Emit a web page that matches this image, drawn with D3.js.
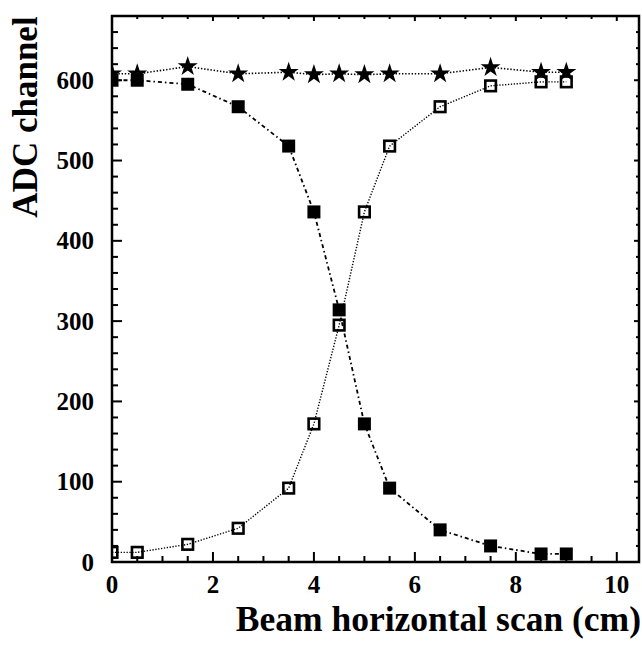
<!DOCTYPE html>
<html>
<head>
<meta charset="utf-8">
<script src="https://cdn.jsdelivr.net/npm/d3@7"></script>
<style>
  html, body { margin: 0; padding: 0; background: #fff; }
  svg { display: block; }
  text { font-family: "Liberation Serif", "Times New Roman", serif; font-weight: bold; fill: #000; }
</style>
</head>
<body>
<svg id="chart" width="642" height="648"></svg>
<script>
// Beam scan positions (cm)
const positions = [0, 0.5, 1.5, 2.5, 3.5, 4.0, 4.5, 5.0, 5.5, 6.5, 7.5, 8.5, 9.0];
// Sum of both channels (stars)
const sumADC = [608, 608, 617, 608, 610, 607, 608, 607, 608, 608, 616, 610, 610];
// Channel A (filled squares)
const channelA = [600, 600, 595, 567, 518, 436, 314, 172, 92, 40, 20, 10, 10];
// Channel B (open squares)
const channelB = [12, 12, 22, 42, 92, 172, 295, 436, 518, 567, 593, 598, 598];

const xTickLabels = [0, 2, 4, 6, 8, 10];
const yTickLabels = [0, 100, 200, 300, 400, 500, 600];

const svg = d3.select("#chart");

const x = d3.scaleLinear().domain([0, 10.44]).range([112, 639]);
const y = d3.scaleLinear().domain([0, 680]).range([562, 16]);

const [x0, x1] = x.range();
const [y0, y1] = y.range();

svg.append("clipPath").attr("id", "plot-clip")
  .append("rect").attr("x", x0).attr("y", y1).attr("width", x1 - x0).attr("height", y0 - y1);

// Inward tick marks on all four sides
const ticks = svg.append("g").attr("stroke", "#000").attr("stroke-width", 2);
d3.range(0, 10.44, 0.5).forEach(v => {
  const major = Math.abs(v % 2) < 1e-9;
  const len = major ? 10 : 6;
  ticks.append("line").attr("x1", x(v)).attr("x2", x(v)).attr("y1", y0).attr("y2", y0 - len);
  ticks.append("line").attr("x1", x(v)).attr("x2", x(v)).attr("y1", y1).attr("y2", y1 + len * 0.5);
});
d3.range(0, 681, 20).forEach(v => {
  const major = v % 100 === 0;
  const len = major ? 10 : 6;
  ticks.append("line").attr("x1", x0).attr("x2", x0 + len).attr("y1", y(v)).attr("y2", y(v));
  ticks.append("line").attr("x1", x1).attr("x2", x1 - len * 0.5).attr("y1", y(v)).attr("y2", y(v));
});

// Frame
svg.append("rect")
  .attr("x", x0).attr("y", y1).attr("width", x1 - x0).attr("height", y0 - y1)
  .attr("fill", "none").attr("stroke", "#000").attr("stroke-width", 2.5);

// Tick labels
svg.append("g").selectAll("text").data(xTickLabels).join("text")
  .attr("x", d => x(d)).attr("y", 593)
  .attr("text-anchor", "middle").attr("font-size", 25).text(d => d);
svg.append("g").selectAll("text").data(yTickLabels).join("text")
  .attr("x", 94).attr("y", d => y(d) + 8.5)
  .attr("text-anchor", "end").attr("font-size", 25).text(d => d);

// Axis titles
svg.append("text")
  .attr("transform", "translate(37,117) rotate(-90)")
  .attr("text-anchor", "middle").attr("font-size", 35).text("ADC channel");
svg.append("text")
  .attr("x", 641).attr("y", 631)
  .attr("text-anchor", "end").attr("font-size", 35.5).text("Beam horizontal scan (cm)");

const plot = svg.append("g").attr("clip-path", "url(#plot-clip)");

const line = vals => d3.line().x((d, i) => x(positions[i])).y(d => y(d))(vals);

plot.append("path").attr("d", line(sumADC))
  .attr("fill", "none").attr("stroke", "#000").attr("stroke-width", 1.6)
  .attr("stroke-dasharray", "1.4,1.8");
plot.append("path").attr("d", line(channelA))
  .attr("fill", "none").attr("stroke", "#000").attr("stroke-width", 1.8)
  .attr("stroke-dasharray", "4,3,1.5,3");
plot.append("path").attr("d", line(channelB))
  .attr("fill", "none").attr("stroke", "#000").attr("stroke-width", 1.4)
  .attr("stroke-dasharray", "1.3,1.6");

const sq = 13;
// Open squares
plot.append("g").selectAll("rect").data(channelB).join("rect")
  .attr("x", (d, i) => x(positions[i]) - sq / 2 + 1.2)
  .attr("y", d => y(d) - sq / 2 + 1.2)
  .attr("width", sq - 2.4).attr("height", sq - 2.4)
  .attr("fill", "none").attr("stroke", "#000").attr("stroke-width", 2.6);
// Filled squares
plot.append("g").selectAll("rect").data(channelA).join("rect")
  .attr("x", (d, i) => x(positions[i]) - sq / 2)
  .attr("y", d => y(d) - sq / 2)
  .attr("width", sq).attr("height", sq)
  .attr("fill", "#000");
// Stars
const star = d3.symbol().type(d3.symbolStar).size(125);
plot.append("g").selectAll("path").data(sumADC).join("path")
  .attr("transform", (d, i) => `translate(${x(positions[i])},${y(d)})`)
  .attr("d", star).attr("fill", "#000");
</script>
</body>
</html>
